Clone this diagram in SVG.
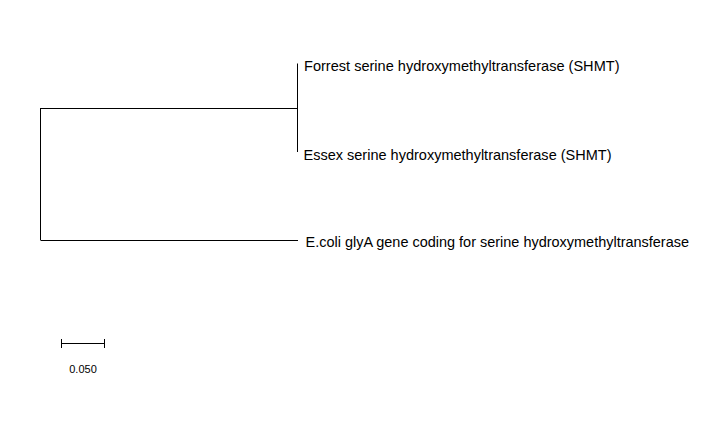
<svg xmlns="http://www.w3.org/2000/svg" width="728" height="428" viewBox="0 0 728 428">
<style>
.l{stroke:#000;stroke-width:1;fill:none}
.t{font-family:"Liberation Sans",Arial,sans-serif;font-size:14.6px;fill:#000}
.s{font-family:"Liberation Sans",Arial,sans-serif;font-size:11px;fill:#000}
</style>
<rect width="728" height="428" fill="#fff"/>
<g id="connectors">
<path class="l" d="M297.5 63.5V152M41 108.5H297.5M40.5 108V240.5M41 240.5H298"/>
</g>
<g id="node-forrest"><text class="t" x="304" y="71" textLength="315.5" lengthAdjust="spacingAndGlyphs">Forrest serine hydroxymethyltransferase (SHMT)</text></g>
<g id="node-essex"><text class="t" x="303.5" y="160" textLength="308" lengthAdjust="spacingAndGlyphs">Essex serine hydroxymethyltransferase (SHMT)</text></g>
<g id="node-ecoli"><text class="t" x="305.5" y="246.5" textLength="383.5" lengthAdjust="spacingAndGlyphs">E.coli glyA gene coding for serine hydroxymethyltransferase</text></g>
<g id="scale">
<path class="l" d="M61 343.5H105M61.5 339V348M104.5 339V348"/>
<text class="s" x="83" y="373" text-anchor="middle">0.050</text>
</g>
</svg>
